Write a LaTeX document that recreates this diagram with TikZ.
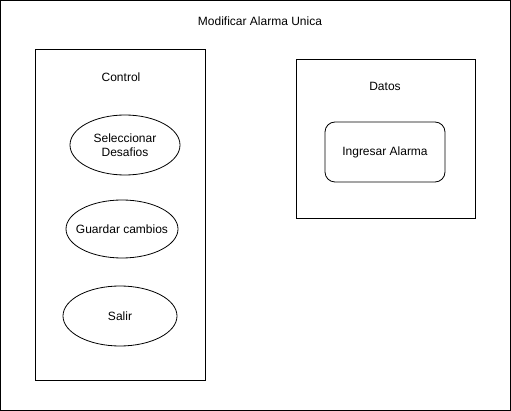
\documentclass[tikz,border=0pt]{standalone}
\usepackage{fontspec}
\setmainfont{Liberation Sans}
\usepackage{tikz}
\usetikzlibrary{shapes.geometric}

\begin{document}
\begin{tikzpicture}[
  x=1pt, y=-1pt,
  every node/.style={font=\fontsize{12}{14}\selectfont},
  frame/.style={draw, line width=1pt},
  usecase/.style={draw, ellipse, line width=0.8pt, minimum width=110pt,
    minimum height=60pt, inner sep=0pt, align=center},
  datum/.style={draw, rounded corners=10pt, line width=0.8pt,
    minimum width=120pt, minimum height=60pt},
]

\useasboundingbox (0,0) rectangle (511,411);
\draw [frame] (0.5,0.5) rectangle (510.5,410.5);
\node (title) at (260,21) {Modificar Alarma Unica};

% control
\draw [frame] (35,50) rectangle (205,380);
\node (control) at (121,77) {Control};
\node [usecase] (selec) at (125,145) {Seleccionar\\Desafios};
\node [usecase, inner xsep=-11pt, minimum width=112pt, minimum height=58pt] (guardar) at (122,229) {Guardar cambios};
\node [usecase, minimum width=114pt] (salir) at (120,316) {Salir};

% datos
\draw [frame] (296,60) rectangle (475,219);
\node (datos) at (385,86) {Datos};
\node [datum] (ingresar) at (385,152) {Ingresar Alarma};

\end{tikzpicture}
\end{document}
